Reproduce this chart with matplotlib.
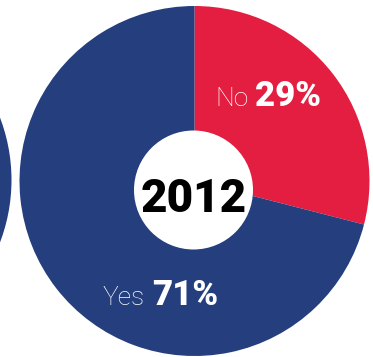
import matplotlib
matplotlib.use("Agg")
import matplotlib.pyplot as plt
from matplotlib.patches import Circle

# Survey result for 2012
year = "2012"
labels = ["No", "Yes"]
shares = [29, 71]
colors = ["#E31E41", "#243E7E"]

num_font = dict(family="Roboto", weight=900)
light_font = dict(family="Roboto", weight="light")

W, H = 373, 357
fig = plt.figure(figsize=(W / 100, H / 100), dpi=100)
ax = fig.add_axes([0, 0, 1, 1])
ax.set_xlim(0, W)
ax.set_ylim(0, H)
ax.set_aspect("equal")
ax.axis("off")

# neighbouring chart, only its edge shows on the left
ax.add_patch(Circle((-163.5, 177), 175, color=colors[1], lw=0))

ax.pie(shares, colors=colors, startangle=90, counterclock=False,
       center=(194.5, 176), radius=175,
       wedgeprops=dict(linewidth=0))
ax.set_xlim(0, W)
ax.set_ylim(0, H)

ax.add_patch(Circle((193.5, 167), 59.5, color="white", lw=0, zorder=3))
ax.text(193.5, 145, year, ha="center", va="baseline", fontsize=33,
        color="black", zorder=4, **num_font)

ax.text(215, 251, labels[0], ha="left", va="baseline", fontsize=19,
        color="white", **light_font)
ax.text(255, 251, f"{shares[0]}%", ha="left", va="baseline", fontsize=25,
        color="white", **num_font)

ax.text(103, 52, labels[1], ha="left", va="baseline", fontsize=19,
        color="white", **light_font)
ax.text(152, 52, f"{shares[1]}%", ha="left", va="baseline", fontsize=25,
        color="white", **num_font)

fig.savefig("out.png", dpi=100)
